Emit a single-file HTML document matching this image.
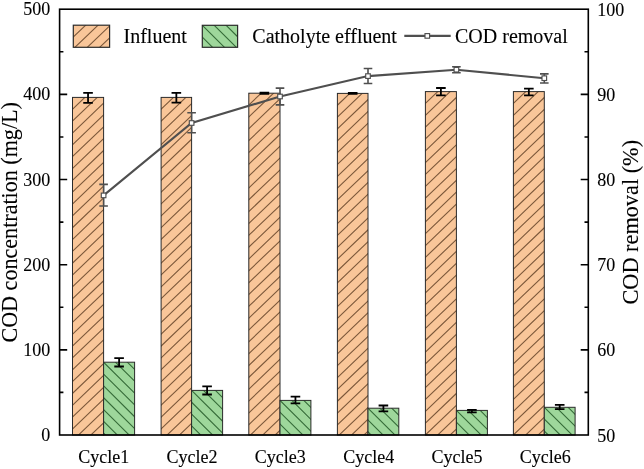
<!DOCTYPE html><html><head><meta charset="utf-8"><style>html,body{margin:0;padding:0;background:#fff;width:644px;height:469px;overflow:hidden}svg{display:block;will-change:transform}text{font-family:"Liberation Serif",serif;fill:#000;stroke:#000;stroke-width:0.12px}</style></head><body>
<svg width="644" height="469" viewBox="0 0 644 469">
<defs><clipPath id="c1"><rect x="72.50" y="97.40" width="31.10" height="337.60"/></clipPath><clipPath id="c2"><rect x="103.60" y="362.20" width="31.00" height="72.80"/></clipPath><clipPath id="c3"><rect x="161.10" y="97.40" width="30.50" height="337.60"/></clipPath><clipPath id="c4"><rect x="191.60" y="390.40" width="31.00" height="44.60"/></clipPath><clipPath id="c5"><rect x="248.80" y="93.20" width="31.20" height="341.80"/></clipPath><clipPath id="c6"><rect x="280.00" y="400.40" width="30.90" height="34.60"/></clipPath><clipPath id="c7"><rect x="337.40" y="93.40" width="30.60" height="341.60"/></clipPath><clipPath id="c8"><rect x="368.00" y="408.20" width="30.80" height="26.80"/></clipPath><clipPath id="c9"><rect x="425.40" y="91.60" width="31.00" height="343.40"/></clipPath><clipPath id="c10"><rect x="456.40" y="410.40" width="31.00" height="24.60"/></clipPath><clipPath id="c11"><rect x="513.40" y="91.60" width="30.90" height="343.40"/></clipPath><clipPath id="c12"><rect x="544.30" y="407.30" width="30.80" height="27.70"/></clipPath><clipPath id="c13"><rect x="73.30" y="25.20" width="36.30" height="22.10"/></clipPath><clipPath id="c14"><rect x="202.30" y="25.30" width="35.30" height="22.00"/></clipPath></defs>
<rect x="72.50" y="97.40" width="31.10" height="337.60" fill="#F9C699"/>
<path clip-path="url(#c1)" d="M70.50,51.95L105.60,18.36M70.50,63.79L105.60,30.20M70.50,75.63L105.60,42.04M70.50,87.47L105.60,53.88M70.50,99.31L105.60,65.72M70.50,111.15L105.60,77.56M70.50,122.99L105.60,89.40M70.50,134.83L105.60,101.24M70.50,146.67L105.60,113.08M70.50,158.51L105.60,124.92M70.50,170.35L105.60,136.76M70.50,182.19L105.60,148.60M70.50,194.03L105.60,160.44M70.50,205.87L105.60,172.28M70.50,217.71L105.60,184.12M70.50,229.55L105.60,195.96M70.50,241.39L105.60,207.80M70.50,253.23L105.60,219.64M70.50,265.07L105.60,231.48M70.50,276.91L105.60,243.32M70.50,288.75L105.60,255.16M70.50,300.59L105.60,267.00M70.50,312.43L105.60,278.84M70.50,324.27L105.60,290.68M70.50,336.11L105.60,302.52M70.50,347.95L105.60,314.36M70.50,359.79L105.60,326.20M70.50,371.63L105.60,338.04M70.50,383.47L105.60,349.88M70.50,395.31L105.60,361.72M70.50,407.15L105.60,373.56M70.50,418.99L105.60,385.40M70.50,430.83L105.60,397.24M70.50,442.67L105.60,409.08M70.50,454.51L105.60,420.92M70.50,466.35L105.60,432.76M70.50,478.19L105.60,444.60M70.50,490.03L105.60,456.44" stroke="#7c583a" stroke-width="1.1" fill="none"/>
<rect x="72.50" y="97.40" width="31.10" height="337.60" fill="none" stroke="#2b2b2b" stroke-width="1.0"/>
<rect x="103.60" y="362.20" width="31.00" height="72.80" fill="#9ED79B"/>
<path clip-path="url(#c2)" d="M101.60,312.85L136.60,347.67M101.60,324.69L136.60,359.51M101.60,336.53L136.60,371.35M101.60,348.37L136.60,383.19M101.60,360.21L136.60,395.03M101.60,372.05L136.60,406.87M101.60,383.89L136.60,418.71M101.60,395.73L136.60,430.55M101.60,407.57L136.60,442.39M101.60,419.41L136.60,454.23M101.60,431.25L136.60,466.07M101.60,443.09L136.60,477.91M101.60,454.93L136.60,489.75M101.60,466.77L136.60,501.59M101.60,478.61L136.60,513.44" stroke="#356b38" stroke-width="1.1" fill="none"/>
<rect x="103.60" y="362.20" width="31.00" height="72.80" fill="none" stroke="#2b2b2b" stroke-width="1.0"/>
<rect x="161.10" y="97.40" width="30.50" height="337.60" fill="#F9C699"/>
<path clip-path="url(#c3)" d="M159.10,51.95L193.60,18.94M159.10,63.79L193.60,30.78M159.10,75.63L193.60,42.62M159.10,87.47L193.60,54.46M159.10,99.31L193.60,66.30M159.10,111.15L193.60,78.14M159.10,122.99L193.60,89.98M159.10,134.83L193.60,101.82M159.10,146.67L193.60,113.66M159.10,158.51L193.60,125.50M159.10,170.35L193.60,137.34M159.10,182.19L193.60,149.18M159.10,194.03L193.60,161.02M159.10,205.87L193.60,172.86M159.10,217.71L193.60,184.70M159.10,229.55L193.60,196.54M159.10,241.39L193.60,208.38M159.10,253.23L193.60,220.22M159.10,265.07L193.60,232.06M159.10,276.91L193.60,243.90M159.10,288.75L193.60,255.74M159.10,300.59L193.60,267.58M159.10,312.43L193.60,279.42M159.10,324.27L193.60,291.26M159.10,336.11L193.60,303.10M159.10,347.95L193.60,314.94M159.10,359.79L193.60,326.78M159.10,371.63L193.60,338.62M159.10,383.47L193.60,350.46M159.10,395.31L193.60,362.30M159.10,407.15L193.60,374.14M159.10,418.99L193.60,385.98M159.10,430.83L193.60,397.82M159.10,442.67L193.60,409.66M159.10,454.51L193.60,421.50M159.10,466.35L193.60,433.34M159.10,478.19L193.60,445.18" stroke="#7c583a" stroke-width="1.1" fill="none"/>
<rect x="161.10" y="97.40" width="30.50" height="337.60" fill="none" stroke="#2b2b2b" stroke-width="1.0"/>
<rect x="191.60" y="390.40" width="31.00" height="44.60" fill="#9ED79B"/>
<path clip-path="url(#c4)" d="M189.60,341.05L224.60,375.87M189.60,352.89L224.60,387.71M189.60,364.73L224.60,399.55M189.60,376.57L224.60,411.39M189.60,388.41L224.60,423.23M189.60,400.25L224.60,435.07M189.60,412.09L224.60,446.91M189.60,423.93L224.60,458.75M189.60,435.77L224.60,470.59M189.60,447.61L224.60,482.43M189.60,459.45L224.60,494.27M189.60,471.29L224.60,506.11M189.60,483.13L224.60,517.96" stroke="#356b38" stroke-width="1.1" fill="none"/>
<rect x="191.60" y="390.40" width="31.00" height="44.60" fill="none" stroke="#2b2b2b" stroke-width="1.0"/>
<rect x="248.80" y="93.20" width="31.20" height="341.80" fill="#F9C699"/>
<path clip-path="url(#c5)" d="M246.80,47.75L282.00,14.07M246.80,59.59L282.00,25.91M246.80,71.43L282.00,37.75M246.80,83.27L282.00,49.59M246.80,95.11L282.00,61.43M246.80,106.95L282.00,73.27M246.80,118.79L282.00,85.11M246.80,130.63L282.00,96.95M246.80,142.47L282.00,108.79M246.80,154.31L282.00,120.63M246.80,166.15L282.00,132.47M246.80,177.99L282.00,144.31M246.80,189.83L282.00,156.15M246.80,201.67L282.00,167.99M246.80,213.51L282.00,179.83M246.80,225.35L282.00,191.67M246.80,237.19L282.00,203.51M246.80,249.03L282.00,215.35M246.80,260.87L282.00,227.19M246.80,272.71L282.00,239.03M246.80,284.55L282.00,250.87M246.80,296.39L282.00,262.71M246.80,308.23L282.00,274.55M246.80,320.07L282.00,286.39M246.80,331.91L282.00,298.23M246.80,343.75L282.00,310.07M246.80,355.59L282.00,321.91M246.80,367.43L282.00,333.75M246.80,379.27L282.00,345.59M246.80,391.11L282.00,357.43M246.80,402.95L282.00,369.27M246.80,414.79L282.00,381.11M246.80,426.63L282.00,392.95M246.80,438.47L282.00,404.79M246.80,450.31L282.00,416.63M246.80,462.15L282.00,428.47M246.80,473.99L282.00,440.31M246.80,485.83L282.00,452.15" stroke="#7c583a" stroke-width="1.1" fill="none"/>
<rect x="248.80" y="93.20" width="31.20" height="341.80" fill="none" stroke="#2b2b2b" stroke-width="1.0"/>
<rect x="280.00" y="400.40" width="30.90" height="34.60" fill="#9ED79B"/>
<path clip-path="url(#c6)" d="M278.00,351.05L312.90,385.78M278.00,362.89L312.90,397.62M278.00,374.73L312.90,409.46M278.00,386.57L312.90,421.30M278.00,398.41L312.90,433.14M278.00,410.25L312.90,444.98M278.00,422.09L312.90,456.82M278.00,433.93L312.90,468.66M278.00,445.77L312.90,480.50M278.00,457.61L312.90,492.34M278.00,469.45L312.90,504.18M278.00,481.29L312.90,516.02" stroke="#356b38" stroke-width="1.1" fill="none"/>
<rect x="280.00" y="400.40" width="30.90" height="34.60" fill="none" stroke="#2b2b2b" stroke-width="1.0"/>
<rect x="337.40" y="93.40" width="30.60" height="341.60" fill="#F9C699"/>
<path clip-path="url(#c7)" d="M335.40,47.95L370.00,14.84M335.40,59.79L370.00,26.68M335.40,71.63L370.00,38.52M335.40,83.47L370.00,50.36M335.40,95.31L370.00,62.20M335.40,107.15L370.00,74.04M335.40,118.99L370.00,85.88M335.40,130.83L370.00,97.72M335.40,142.67L370.00,109.56M335.40,154.51L370.00,121.40M335.40,166.35L370.00,133.24M335.40,178.19L370.00,145.08M335.40,190.03L370.00,156.92M335.40,201.87L370.00,168.76M335.40,213.71L370.00,180.60M335.40,225.55L370.00,192.44M335.40,237.39L370.00,204.28M335.40,249.23L370.00,216.12M335.40,261.07L370.00,227.96M335.40,272.91L370.00,239.80M335.40,284.75L370.00,251.64M335.40,296.59L370.00,263.48M335.40,308.43L370.00,275.32M335.40,320.27L370.00,287.16M335.40,332.11L370.00,299.00M335.40,343.95L370.00,310.84M335.40,355.79L370.00,322.68M335.40,367.63L370.00,334.52M335.40,379.47L370.00,346.36M335.40,391.31L370.00,358.20M335.40,403.15L370.00,370.04M335.40,414.99L370.00,381.88M335.40,426.83L370.00,393.72M335.40,438.67L370.00,405.56M335.40,450.51L370.00,417.40M335.40,462.35L370.00,429.24M335.40,474.19L370.00,441.08M335.40,486.03L370.00,452.92" stroke="#7c583a" stroke-width="1.1" fill="none"/>
<rect x="337.40" y="93.40" width="30.60" height="341.60" fill="none" stroke="#2b2b2b" stroke-width="1.0"/>
<rect x="368.00" y="408.20" width="30.80" height="26.80" fill="#9ED79B"/>
<path clip-path="url(#c8)" d="M366.00,358.85L400.80,393.48M366.00,370.69L400.80,405.32M366.00,382.53L400.80,417.16M366.00,394.37L400.80,429.00M366.00,406.21L400.80,440.84M366.00,418.05L400.80,452.68M366.00,429.89L400.80,464.52M366.00,441.73L400.80,476.36M366.00,453.57L400.80,488.20M366.00,465.41L400.80,500.04M366.00,477.25L400.80,511.88" stroke="#356b38" stroke-width="1.1" fill="none"/>
<rect x="368.00" y="408.20" width="30.80" height="26.80" fill="none" stroke="#2b2b2b" stroke-width="1.0"/>
<rect x="425.40" y="91.60" width="31.00" height="343.40" fill="#F9C699"/>
<path clip-path="url(#c9)" d="M423.40,46.15L458.40,12.66M423.40,57.99L458.40,24.50M423.40,69.83L458.40,36.34M423.40,81.67L458.40,48.18M423.40,93.51L458.40,60.02M423.40,105.35L458.40,71.86M423.40,117.19L458.40,83.70M423.40,129.03L458.40,95.54M423.40,140.87L458.40,107.38M423.40,152.71L458.40,119.22M423.40,164.55L458.40,131.06M423.40,176.39L458.40,142.90M423.40,188.23L458.40,154.74M423.40,200.07L458.40,166.58M423.40,211.91L458.40,178.42M423.40,223.75L458.40,190.26M423.40,235.59L458.40,202.10M423.40,247.43L458.40,213.94M423.40,259.27L458.40,225.78M423.40,271.11L458.40,237.62M423.40,282.95L458.40,249.46M423.40,294.79L458.40,261.30M423.40,306.63L458.40,273.14M423.40,318.47L458.40,284.98M423.40,330.31L458.40,296.82M423.40,342.15L458.40,308.66M423.40,353.99L458.40,320.50M423.40,365.83L458.40,332.34M423.40,377.67L458.40,344.18M423.40,389.51L458.40,356.02M423.40,401.35L458.40,367.86M423.40,413.19L458.40,379.70M423.40,425.03L458.40,391.54M423.40,436.87L458.40,403.38M423.40,448.71L458.40,415.22M423.40,460.55L458.40,427.06M423.40,472.39L458.40,438.90M423.40,484.23L458.40,450.74" stroke="#7c583a" stroke-width="1.1" fill="none"/>
<rect x="425.40" y="91.60" width="31.00" height="343.40" fill="none" stroke="#2b2b2b" stroke-width="1.0"/>
<rect x="456.40" y="410.40" width="31.00" height="24.60" fill="#9ED79B"/>
<path clip-path="url(#c10)" d="M454.40,361.05L489.40,395.87M454.40,372.89L489.40,407.71M454.40,384.73L489.40,419.55M454.40,396.57L489.40,431.39M454.40,408.41L489.40,443.23M454.40,420.25L489.40,455.07M454.40,432.09L489.40,466.91M454.40,443.93L489.40,478.75M454.40,455.77L489.40,490.59M454.40,467.61L489.40,502.43M454.40,479.45L489.40,514.27" stroke="#356b38" stroke-width="1.1" fill="none"/>
<rect x="456.40" y="410.40" width="31.00" height="24.60" fill="none" stroke="#2b2b2b" stroke-width="1.0"/>
<rect x="513.40" y="91.60" width="30.90" height="343.40" fill="#F9C699"/>
<path clip-path="url(#c11)" d="M511.40,46.15L546.30,12.75M511.40,57.99L546.30,24.59M511.40,69.83L546.30,36.43M511.40,81.67L546.30,48.27M511.40,93.51L546.30,60.11M511.40,105.35L546.30,71.95M511.40,117.19L546.30,83.79M511.40,129.03L546.30,95.63M511.40,140.87L546.30,107.47M511.40,152.71L546.30,119.31M511.40,164.55L546.30,131.15M511.40,176.39L546.30,142.99M511.40,188.23L546.30,154.83M511.40,200.07L546.30,166.67M511.40,211.91L546.30,178.51M511.40,223.75L546.30,190.35M511.40,235.59L546.30,202.19M511.40,247.43L546.30,214.03M511.40,259.27L546.30,225.87M511.40,271.11L546.30,237.71M511.40,282.95L546.30,249.55M511.40,294.79L546.30,261.39M511.40,306.63L546.30,273.23M511.40,318.47L546.30,285.07M511.40,330.31L546.30,296.91M511.40,342.15L546.30,308.75M511.40,353.99L546.30,320.59M511.40,365.83L546.30,332.43M511.40,377.67L546.30,344.27M511.40,389.51L546.30,356.11M511.40,401.35L546.30,367.95M511.40,413.19L546.30,379.79M511.40,425.03L546.30,391.63M511.40,436.87L546.30,403.47M511.40,448.71L546.30,415.31M511.40,460.55L546.30,427.15M511.40,472.39L546.30,438.99M511.40,484.23L546.30,450.83" stroke="#7c583a" stroke-width="1.1" fill="none"/>
<rect x="513.40" y="91.60" width="30.90" height="343.40" fill="none" stroke="#2b2b2b" stroke-width="1.0"/>
<rect x="544.30" y="407.30" width="30.80" height="27.70" fill="#9ED79B"/>
<path clip-path="url(#c12)" d="M542.30,357.95L577.10,392.58M542.30,369.79L577.10,404.42M542.30,381.63L577.10,416.26M542.30,393.47L577.10,428.10M542.30,405.31L577.10,439.94M542.30,417.15L577.10,451.78M542.30,428.99L577.10,463.62M542.30,440.83L577.10,475.46M542.30,452.67L577.10,487.30M542.30,464.51L577.10,499.14M542.30,476.35L577.10,510.98" stroke="#356b38" stroke-width="1.1" fill="none"/>
<rect x="544.30" y="407.30" width="30.80" height="27.70" fill="none" stroke="#2b2b2b" stroke-width="1.0"/>
<path d="M83.25,92.90 H92.85 M83.25,102.80 H92.85 M88.05,92.90 V102.80" stroke="#000" stroke-width="1.8" fill="none"/>
<path d="M114.30,358.20 H123.90 M114.30,366.50 H123.90 M119.10,358.20 V366.50" stroke="#000" stroke-width="1.8" fill="none"/>
<path d="M171.55,92.90 H181.15 M171.55,102.70 H181.15 M176.35,92.90 V102.70" stroke="#000" stroke-width="1.8" fill="none"/>
<path d="M202.30,386.40 H211.90 M202.30,394.50 H211.90 M207.10,386.40 V394.50" stroke="#000" stroke-width="1.8" fill="none"/>
<path d="M259.60,92.70 H269.20 M259.60,93.80 H269.20 M264.40,92.70 V93.80" stroke="#000" stroke-width="1.8" fill="none"/>
<path d="M290.65,396.70 H300.25 M290.65,403.30 H300.25 M295.45,396.70 V403.30" stroke="#000" stroke-width="1.8" fill="none"/>
<path d="M347.90,92.90 H357.50 M347.90,93.90 H357.50 M352.70,92.90 V93.90" stroke="#000" stroke-width="1.8" fill="none"/>
<path d="M378.60,405.50 H388.20 M378.60,411.40 H388.20 M383.40,405.50 V411.40" stroke="#000" stroke-width="1.8" fill="none"/>
<path d="M436.10,88.00 H445.70 M436.10,95.30 H445.70 M440.90,88.00 V95.30" stroke="#000" stroke-width="1.8" fill="none"/>
<path d="M467.10,409.80 H476.70 M467.10,412.40 H476.70 M471.90,409.80 V412.40" stroke="#000" stroke-width="1.8" fill="none"/>
<path d="M524.05,88.60 H533.65 M524.05,95.30 H533.65 M528.85,88.60 V95.30" stroke="#000" stroke-width="1.8" fill="none"/>
<path d="M554.90,404.90 H564.50 M554.90,409.20 H564.50 M559.70,404.90 V409.20" stroke="#000" stroke-width="1.8" fill="none"/>
<polyline points="103.60,195.40 191.60,123.00 280.00,96.50 368.00,76.10 456.40,69.70 544.30,78.20" fill="none" stroke="#4f4f4f" stroke-width="2.1"/>
<path d="M99.30,184.40 H107.90 M99.30,206.00 H107.90 M103.60,184.40 V206.00" stroke="#4f4f4f" stroke-width="1.6" fill="none"/>
<path d="M187.30,112.80 H195.90 M187.30,132.70 H195.90 M191.60,112.80 V132.70" stroke="#4f4f4f" stroke-width="1.6" fill="none"/>
<path d="M275.70,88.10 H284.30 M275.70,104.90 H284.30 M280.00,88.10 V104.90" stroke="#4f4f4f" stroke-width="1.6" fill="none"/>
<path d="M363.70,68.50 H372.30 M363.70,83.50 H372.30 M368.00,68.50 V83.50" stroke="#4f4f4f" stroke-width="1.6" fill="none"/>
<path d="M452.10,66.80 H460.70 M452.10,72.70 H460.70 M456.40,66.80 V72.70" stroke="#4f4f4f" stroke-width="1.6" fill="none"/>
<path d="M540.00,73.90 H548.60 M540.00,83.00 H548.60 M544.30,73.90 V83.00" stroke="#4f4f4f" stroke-width="1.6" fill="none"/>
<rect x="101.30" y="193.10" width="4.6" height="4.6" fill="#fff" stroke="#4f4f4f" stroke-width="1.15"/>
<rect x="189.30" y="120.70" width="4.6" height="4.6" fill="#fff" stroke="#4f4f4f" stroke-width="1.15"/>
<rect x="277.70" y="94.20" width="4.6" height="4.6" fill="#fff" stroke="#4f4f4f" stroke-width="1.15"/>
<rect x="365.70" y="73.80" width="4.6" height="4.6" fill="#fff" stroke="#4f4f4f" stroke-width="1.15"/>
<rect x="454.10" y="67.40" width="4.6" height="4.6" fill="#fff" stroke="#4f4f4f" stroke-width="1.15"/>
<rect x="542.00" y="75.90" width="4.6" height="4.6" fill="#fff" stroke="#4f4f4f" stroke-width="1.15"/>
<rect x="59.6" y="9.2" width="528.70" height="425.80" fill="none" stroke="#000" stroke-width="1.6"/>
<path d="M59.6,392.42 H63.40 M588.3,392.42 H584.50 M59.6,349.84 H67.20 M588.3,349.84 H580.70 M59.6,307.26 H63.40 M588.3,307.26 H584.50 M59.6,264.68 H67.20 M588.3,264.68 H580.70 M59.6,222.10 H63.40 M588.3,222.10 H584.50 M59.6,179.52 H67.20 M588.3,179.52 H580.70 M59.6,136.94 H63.40 M588.3,136.94 H584.50 M59.6,94.36 H67.20 M588.3,94.36 H580.70 M59.6,51.78 H63.40 M588.3,51.78 H584.50" stroke="#000" stroke-width="1.6" fill="none"/>
<text x="50.3" y="441.00" font-size="18" text-anchor="end">0</text>
<text x="50.3" y="355.84" font-size="18" text-anchor="end">100</text>
<text x="50.3" y="270.68" font-size="18" text-anchor="end">200</text>
<text x="50.3" y="185.52" font-size="18" text-anchor="end">300</text>
<text x="50.3" y="100.36" font-size="18" text-anchor="end">400</text>
<text x="50.3" y="15.20" font-size="18" text-anchor="end">500</text>
<text x="597.3" y="441.60" font-size="18" text-anchor="start">50</text>
<text x="597.3" y="356.44" font-size="18" text-anchor="start">60</text>
<text x="597.3" y="271.28" font-size="18" text-anchor="start">70</text>
<text x="597.3" y="186.12" font-size="18" text-anchor="start">80</text>
<text x="597.3" y="100.96" font-size="18" text-anchor="start">90</text>
<text x="597.3" y="15.80" font-size="18" text-anchor="start">100</text>
<text x="103.66" y="462.8" font-size="18" text-anchor="middle">Cycle1</text>
<text x="191.99" y="462.8" font-size="18" text-anchor="middle">Cycle2</text>
<text x="280.33" y="462.8" font-size="18" text-anchor="middle">Cycle3</text>
<text x="368.67" y="462.8" font-size="18" text-anchor="middle">Cycle4</text>
<text x="457.00" y="462.8" font-size="18" text-anchor="middle">Cycle5</text>
<text x="545.34" y="462.8" font-size="18" text-anchor="middle">Cycle6</text>
<text transform="translate(17.4,222.35) rotate(-90)" font-size="22.1" text-anchor="middle">COD concentration (mg/L)</text>
<text transform="translate(637.5,222.25) rotate(-90)" font-size="22.3" text-anchor="middle">COD removal (%)</text>
<rect x="73.30" y="25.20" width="36.30" height="22.10" fill="#F9C699"/>
<path clip-path="url(#c13)" d="M71.30,-20.25L111.60,-58.81M71.30,-8.41L111.60,-46.97M71.30,3.43L111.60,-35.13M71.30,15.27L111.60,-23.29M71.30,27.11L111.60,-11.45M71.30,38.95L111.60,0.39M71.30,50.79L111.60,12.23M71.30,62.63L111.60,24.07M71.30,74.47L111.60,35.91M71.30,86.31L111.60,47.75M71.30,98.15L111.60,59.59" stroke="#7c583a" stroke-width="1.1" fill="none"/>
<rect x="73.30" y="25.20" width="36.30" height="22.10" fill="none" stroke="#2b2b2b" stroke-width="1.2"/>
<text x="123.5" y="43" font-size="20">Influent</text>
<rect x="202.30" y="25.30" width="35.30" height="22.00" fill="#9ED79B"/>
<path clip-path="url(#c14)" d="M200.30,-24.05L239.60,15.05M200.30,-12.21L239.60,26.89M200.30,-0.37L239.60,38.73M200.30,11.47L239.60,50.57M200.30,23.31L239.60,62.41M200.30,35.15L239.60,74.25M200.30,46.99L239.60,86.09M200.30,58.83L239.60,97.93M200.30,70.67L239.60,109.77M200.30,82.51L239.60,121.61M200.30,94.35L239.60,133.45" stroke="#356b38" stroke-width="1.1" fill="none"/>
<rect x="202.30" y="25.30" width="35.30" height="22.00" fill="none" stroke="#2b2b2b" stroke-width="1.2"/>
<text x="252.3" y="42.5" font-size="20">Catholyte effluent</text>
<path d="M404.3,35.9 H450.7" stroke="#4f4f4f" stroke-width="2.1"/>
<rect x="425" y="33.6" width="4.6" height="4.6" fill="#fff" stroke="#4f4f4f" stroke-width="1.15"/>
<text x="455" y="42.5" font-size="20">COD removal</text>
</svg></body></html>
